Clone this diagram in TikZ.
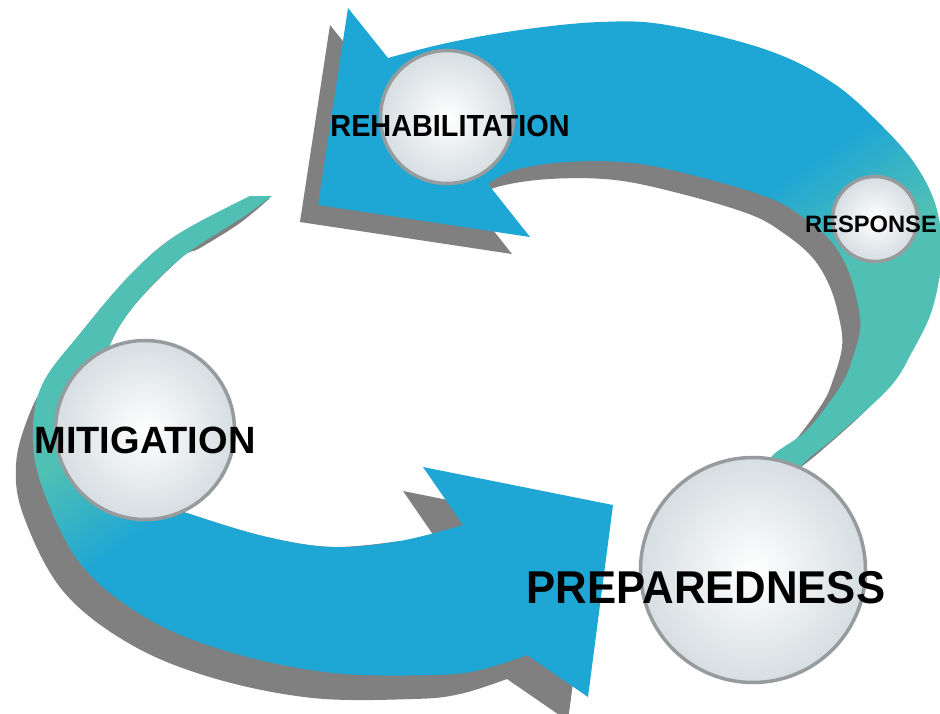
\documentclass[tikz,border=0pt]{standalone}
\usepackage{fontspec}
\newfontfamily\labelfont{Liberation Sans}

\definecolor{cblue}{RGB}{30,166,212}
\definecolor{cteal}{RGB}{80,192,180}
\definecolor{cshadow}{RGB}{128,128,128}
\definecolor{rimgray}{RGB}{150,156,158}
\definecolor{glassedge}{RGB}{214,222,225}

% colour ramps for the two curved arrows
\pgfdeclareverticalshading{upperband}{100bp}{color(0bp)=(cteal); color(37bp)=(cteal); color(47bp)=(cblue); color(100bp)=(cblue)}
\pgfdeclareverticalshading{lowerband}{100bp}{color(0bp)=(cblue); color(53bp)=(cblue); color(63bp)=(cteal); color(100bp)=(cteal)}

% outline of the upper arrow (head pointing left)
\newcommand\upperarrow{(348,8) -- (388,58)
  -- plot[smooth, tension=0.6] coordinates {(388,58) (447,43) (520,30) (600,22) (667,25) (767,50) (833,83) (883,127) (917,167) (937,210) (941,260) (932,310) (912,352) (890,387) (840,433) (807,460) (790,478)}
  -- plot[smooth, tension=0.6] coordinates {(762,476) (773,455) (807,430) (840,387) (852,360) (860,330) (858,305) (848,270) (830,240) (800,215) (767,197) (700,177) (633,163) (567,162) (515,170) (488,184)}
  -- (530,237) -- (318,205) -- cycle}

% outline of the lower arrow (head pointing right)
\newcommand\lowerarrow{(250,196) -- (272,196)
  -- plot[smooth, tension=0.6] coordinates {(272,196) (243,217) (181,258) (133,307) (108,350) (98,400) (105,450) (140,495) (193,515) (267,537) (333,547) (400,541) (463,525)}
  -- (423,467) -- (613,505) -- (588,697) -- (527,655)
  -- plot[smooth, tension=0.6] coordinates {(527,655) (480,670) (433,675) (333,673) (233,653) (150,620) (83,567) (45,495) (33,440) (42,385) (83,330) (133,272) (180,233) (250,196)}
  -- cycle}

% its shadow: the outer rim pushed down and to the left, fading out towards the tail
\newcommand\lowershadow{(252,198) -- (270,198)
  -- plot[smooth, tension=0.6] coordinates {(270,198) (240,223) (200,248) (181,258) (133,307) (108,350) (98,400) (105,450) (140,495) (193,515) (267,537) (333,547) (400,541)}
  -- (443,549) -- (403,491) -- (593,529) -- (568,721) -- (507,679)
  -- plot[smooth, tension=0.6] coordinates {(507,679) (460,694) (413,699) (313,698) (213,678) (130,644) (63,591) (24,517) (16,465) (29,415) (52,372) (83,330) (133,272) (180,233) (252,198)}
  -- cycle}

\tikzset{
  glass/.style={circle, inner sep=0pt, draw=rimgray, line width=3.5pt,
    inner color=white, outer color=glassedge},
  caption/.style={anchor=base, inner sep=0pt, text=black},
  dropshadow/.style={fill=cshadow}
}

\begin{document}
\begin{tikzpicture}[x=1pt, y=-1pt]
  \useasboundingbox (0,0) rectangle (940,713);
  \fill[white] (0,0) rectangle (940,713);

  % shadows
  \fill[dropshadow, shift={(-18,17)}] \upperarrow;
  \fill[dropshadow] \lowershadow;

  % arrows
  \shade[shading=lowerband, shading angle=34.8] \lowerarrow;
  \shade[shading=upperband, shading angle=33.7] \upperarrow;

  % glass discs
  \node[glass, minimum size=133pt] (rehab) at (447,117) {};
  \node[glass, minimum size=85pt]  (resp)  at (875,219) {};
  \node[glass, minimum size=179pt] (mit)   at (145,430) {};
  \node[glass, minimum size=225pt] (prep)  at (753,570) {};

  % captions
  \node[caption, font=\labelfont\bfseries\fontsize{30.5}{32}\selectfont] (rehabtxt) at (450,136) {\scalebox{0.945}[1]{REHABILITATION}};
  \node[caption, font=\labelfont\bfseries\fontsize{23.7}{25}\selectfont] (resptxt) at (871,232) {RESPONSE};
  \node[caption, font=\labelfont\bfseries\fontsize{38}{40}\selectfont] (mittxt) at (145,453) {MITIGATION};
  \node[caption, font=\labelfont\bfseries\fontsize{46}{48}\selectfont] (preptxt) at (706,603) {\scalebox{0.95}[1]{PREPAREDNESS}};
\end{tikzpicture}
\end{document}
